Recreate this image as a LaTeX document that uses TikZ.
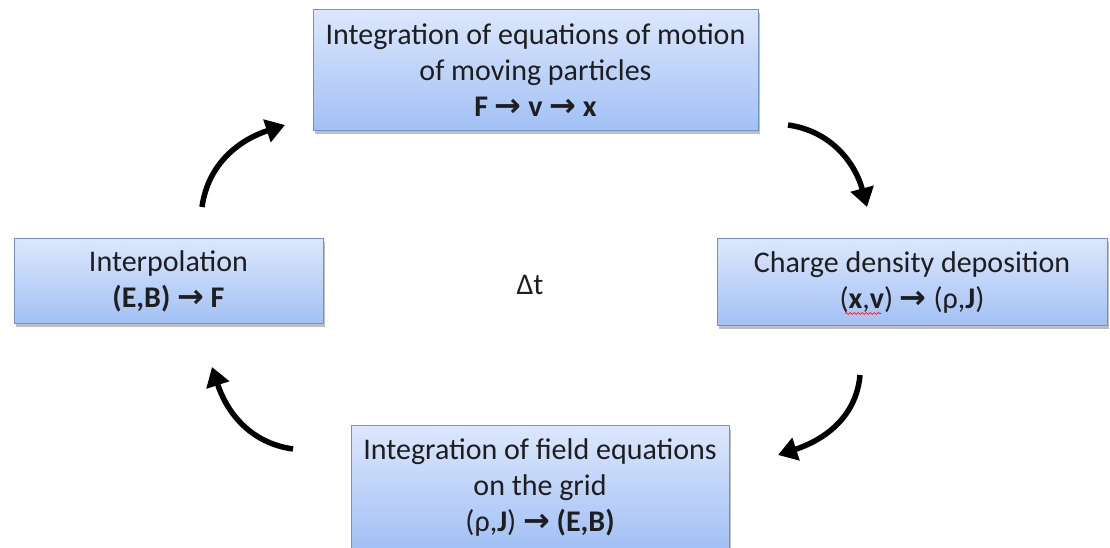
\documentclass[tikz,border=0pt]{standalone}
\usepackage{fontspec}
\setmainfont{Carlito}
\newfontfamily\arrowfont{DejaVu Sans}
\usepackage{tikz}
\usetikzlibrary{arrows.meta,shadows,decorations.pathmorphing}

\definecolor{boxtop}{RGB}{220,231,252}
\definecolor{boxbot}{RGB}{162,192,245}
\definecolor{boxline}{RGB}{112,146,204}
\definecolor{textgray}{RGB}{30,30,30}

\newcommand{\ra}{{\arrowfont\bfseries\fontsize{32}{36}\selectfont →}}

\begin{document}
\begin{tikzpicture}[x=1pt,y=1pt,
  font=\fontsize{30}{36}\selectfont, text=textgray,
  stage/.style={draw=boxline,line width=1pt,top color=boxtop,bottom color=boxbot,
    align=center,inner sep=0pt,
    drop shadow={shadow xshift=2pt,shadow yshift=-3pt,opacity=0.25,fill=black}},
  cyc/.style={-{Triangle[length=19pt,width=23pt]},line width=5.5pt},
  spell/.style={red,line width=0.6pt,decorate,decoration={snake,amplitude=1pt,segment length=4pt}}]
\useasboundingbox (0,0) rectangle (1110,548);
\node[stage, minimum width=445, minimum height=121] (push) at (535.5,477.5)
  {Integration of equations of motion\\of moving particles\\\textbf{F} \ra{} \textbf{v} \ra{} \textbf{x}};
\node[stage, minimum width=390, minimum height=87] (depo) at (912,265.5)
  {Charge density deposition\\(\textbf{x},\textbf{v}) \ra{} (ρ,\textbf{J})};
\node[stage, minimum width=378, minimum height=123] (field) at (540,60.5)
  {Integration of field equations\\on the grid\\(ρ,\textbf{J}) \ra{} \textbf{(E,B)}};
\node[stage, minimum width=309, minimum height=85] (interp) at (168.5,266.5)
  {Interpolation\\\textbf{(E,B)} \ra{} \textbf{F}};
\node (dt) at (530,263) {Δt};
% spell-check squiggle under x,v
\draw[spell] ([xshift=-67pt,yshift=-31pt]depo.center) -- ([xshift=-31pt,yshift=-31pt]depo.center);
% free ends of the cycle arrows
\coordinate (a1s) at (202,341); \coordinate (a1e) at (285,423);
\coordinate (a2s) at (788,423); \coordinate (a2e) at (867,341);
\coordinate (a3s) at (860,173); \coordinate (a3e) at (778,93);
\coordinate (a4s) at (293,99);  \coordinate (a4e) at (212,181);
\draw[cyc] (a1s) to[out=82,in=198] (a1e);
\draw[cyc] (a2s) to[out=-8,in=105] (a2e);
\draw[cyc] (a3s) to[out=-95,in=18] (a3e);
\draw[cyc] (a4s) to[out=172,in=-72] (a4e);
\end{tikzpicture}
\end{document}
